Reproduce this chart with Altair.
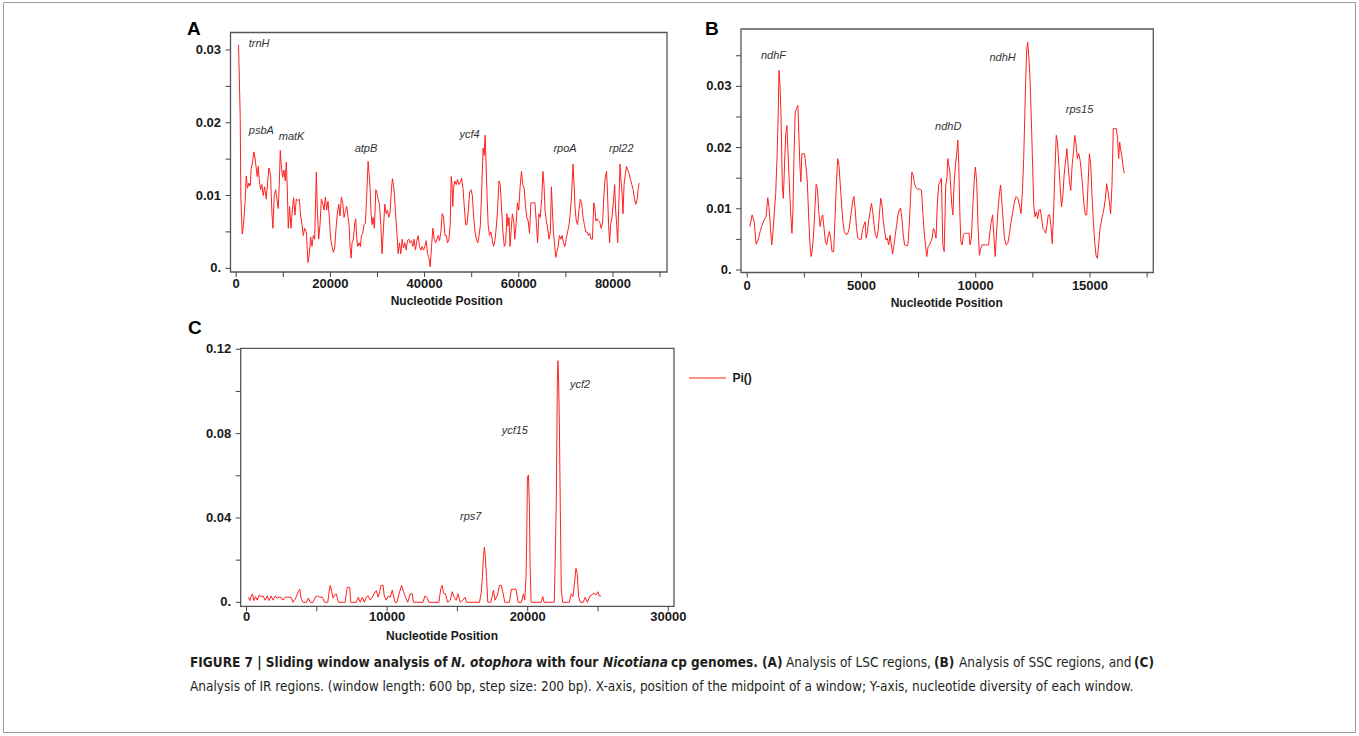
import altair as alt
import pandas as pd

W, H = 1359, 736
RED = "#ff2020"
AX_FONT = "Liberation Sans"
CAP_FONT = "DejaVu Sans Condensed"

# ---------------- data: panel A (LSC) ----------------
A_pos = [500, 850, 990, 1280, 1560, 1910, 2130, 2410, 2690, 2980, 3190, 3470, 3760, 3970, 4250, 4470, 4680, 4890,
         5180, 5460, 5740, 6030, 6380, 6660, 6950, 7300, 7590, 7800, 8080, 8370, 8650, 8930, 9150, 9360, 9570, 9860,
         10140, 10420, 10640, 10850, 11060, 11340, 11630, 11910, 12190, 12480, 12760, 13120, 13400, 13690, 13970,
         14250, 14530, 14890, 15240, 15530, 15810, 16090, 16380, 16660, 17020, 17230, 17510, 17800, 18080, 18360,
         18650, 18930, 19210, 19500, 19780, 20060, 20350, 20630, 20920, 21200, 21480, 21770, 22050, 22330, 22620,
         22900, 23180, 23470, 23750, 23960, 24180, 24390, 24600, 24890, 25170, 25380, 25600, 25810, 26090, 26380,
         26590, 26870, 27150, 27440, 27720, 28010, 28220, 28430, 28640, 28860, 29070, 29350, 29640, 29850, 30130,
         30420, 30700, 30980, 31270, 31550, 31840, 32120, 32400, 32690, 32970, 33180, 33390, 33610, 33890, 34170,
         34390, 34670, 34950, 35240, 35520, 35800, 36090, 36370, 36650, 36940, 37220, 37510, 37790, 38070, 38360,
         38640, 38920, 39210, 39490, 39780, 40060, 40340, 40630, 40910, 41190, 41480, 41760, 42050, 42330, 42610,
         42900, 43180, 43470, 43750, 44030, 44320, 44600, 44880, 45170, 45450, 45650, 45800, 46000, 46140, 46430,
         46720, 47000, 47290, 47570, 47860, 48150, 48430, 48720, 49000, 49290, 49570, 49860, 50140, 50430, 50710,
         51000, 51290, 51570, 51860, 52140, 52430, 52640, 52860, 53070, 53290, 53500, 53780, 54070, 54360, 54640,
         54930, 55210, 55500, 55790, 56070, 56360, 56640, 56930, 57220, 57500, 57710, 57930, 58140, 58360, 58640,
         58930, 59140, 59430, 59710, 60000, 60280, 60570, 60860, 61140, 61430, 61710, 62000, 62280, 62570, 62860,
         63140, 63430, 63710, 64000, 64280, 64570, 64860, 65140, 65360, 65570, 65860, 66140, 66430, 66710, 66930,
         67140, 67360, 67640, 67860, 68070, 68360, 68640, 68930, 69210, 69500, 69790, 70070, 70360, 70640, 70930,
         71210, 71500, 71710, 71930, 72210, 72500, 72790, 73070, 73360, 73640, 73930, 74210, 74500, 74790, 75070,
         75360, 75640, 75930, 76140, 76360, 76640, 76930, 77210, 77500, 77790, 78070, 78360, 78640, 78860, 79070,
         79290, 79500, 79790, 80070, 80360, 80570, 80790, 81000, 81210, 81500, 81710, 81930, 82140, 82360, 82640,
         82860, 83140, 83430, 83710, 84000, 84290, 84570, 84860, 85140, 85360, 85570]
A_pi = [0.0307, 0.0209, 0.0098, 0.0047, 0.0060, 0.0093, 0.0127, 0.0110, 0.0117, 0.0113, 0.0137, 0.0145, 0.0160,
        0.0153, 0.0138, 0.0126, 0.0140, 0.0122, 0.0108, 0.0115, 0.0100, 0.0112, 0.0095, 0.0117, 0.0138, 0.0128,
        0.0075, 0.0055, 0.0100, 0.0108, 0.0095, 0.0082, 0.0115, 0.0162, 0.0142, 0.0125, 0.0135, 0.0120, 0.0146,
        0.0110, 0.0055, 0.0085, 0.0055, 0.0080, 0.0097, 0.0073, 0.0095, 0.0093, 0.0095, 0.0072, 0.0060, 0.0045,
        0.0055, 0.0050, 0.0008, 0.0020, 0.0043, 0.0030, 0.0045, 0.0040, 0.0132, 0.0080, 0.0040, 0.0060, 0.0095,
        0.0090, 0.0080, 0.0098, 0.0080, 0.0092, 0.0070, 0.0040, 0.0030, 0.0022, 0.0028, 0.0055, 0.0075, 0.0088,
        0.0072, 0.0098, 0.0090, 0.0070, 0.0078, 0.0085, 0.0070, 0.0060, 0.0030, 0.0014, 0.0035, 0.0040, 0.0062,
        0.0068, 0.0040, 0.0030, 0.0035, 0.0030, 0.0045, 0.0048, 0.0060, 0.0062, 0.0100, 0.0147, 0.0130, 0.0110,
        0.0075, 0.0060, 0.0070, 0.0055, 0.0108, 0.0105, 0.0095, 0.0088, 0.0060, 0.0020, 0.0055, 0.0088, 0.0075,
        0.0080, 0.0070, 0.0078, 0.0110, 0.0123, 0.0115, 0.0100, 0.0070, 0.0045, 0.0020, 0.0035, 0.0020, 0.0040,
        0.0028, 0.0035, 0.0025, 0.0038, 0.0040, 0.0035, 0.0038, 0.0030, 0.0040, 0.0025, 0.0038, 0.0045, 0.0030,
        0.0025, 0.0030, 0.0025, 0.0030, 0.0038, 0.0020, 0.0015, 0.0002, 0.0030, 0.0055, 0.0040, 0.0035, 0.0040,
        0.0045, 0.0038, 0.0050, 0.0075, 0.0070, 0.0045, 0.0045, 0.0035, 0.0040, 0.0060, 0.0126, 0.0118, 0.0085,
        0.0110, 0.0120, 0.0115, 0.0122, 0.0115, 0.0118, 0.0124, 0.0110, 0.0085, 0.0060, 0.0060, 0.0080, 0.0105,
        0.0108, 0.0100, 0.0070, 0.0050, 0.0040, 0.0035, 0.0045, 0.0060, 0.0110, 0.0165, 0.0155, 0.0183, 0.0140,
        0.0095, 0.0060, 0.0045, 0.0050, 0.0040, 0.0030, 0.0038, 0.0055, 0.0080, 0.0120, 0.0115, 0.0080, 0.0050,
        0.0030, 0.0035, 0.0075, 0.0058, 0.0070, 0.0030, 0.0050, 0.0075, 0.0065, 0.0040, 0.0060, 0.0090, 0.0080,
        0.0112, 0.0133, 0.0115, 0.0110, 0.0085, 0.0070, 0.0065, 0.0048, 0.0090, 0.0090, 0.0090, 0.0090, 0.0065,
        0.0035, 0.0075, 0.0070, 0.0095, 0.0133, 0.0115, 0.0080, 0.0065, 0.0055, 0.0040, 0.0050, 0.0112, 0.0080,
        0.0050, 0.0030, 0.0015, 0.0022, 0.0030, 0.0045, 0.0040, 0.0045, 0.0035, 0.0030, 0.0040, 0.0050, 0.0058,
        0.0075, 0.0100, 0.0143, 0.0120, 0.0085, 0.0065, 0.0060, 0.0080, 0.0095, 0.0090, 0.0070, 0.0060, 0.0050,
        0.0050, 0.0045, 0.0048, 0.0040, 0.0040, 0.0090, 0.0085, 0.0065, 0.0068, 0.0065, 0.0063, 0.0055, 0.0062,
        0.0100, 0.0125, 0.0133, 0.0100, 0.0060, 0.0035, 0.0060, 0.0070, 0.0090, 0.0115, 0.0080, 0.0060, 0.0035,
        0.0080, 0.0143, 0.0120, 0.0105, 0.0075, 0.0115, 0.0130, 0.0140, 0.0135, 0.0130, 0.0122, 0.0115, 0.0108,
        0.0095, 0.0088, 0.0095, 0.0110, 0.0117]

# ---------------- data: panel B (SSC) ----------------
B_pos = [116, 218, 305, 392, 479, 566, 653, 740, 827, 899, 957, 1015, 1073, 1131, 1189, 1247, 1305, 1349, 1392,
         1436, 1479, 1537, 1581, 1624, 1682, 1740, 1784, 1842, 1900, 1958, 2001, 2045, 2103, 2161, 2219, 2262, 2306,
         2349, 2393, 2451, 2509, 2567, 2625, 2682, 2740, 2798, 2856, 2914, 2972, 3016, 3074, 3132, 3190, 3248, 3306,
         3364, 3422, 3480, 3538, 3596, 3654, 3712, 3785, 3843, 3901, 3959, 4017, 4075, 4133, 4191, 4249, 4321, 4394,
         4466, 4539, 4611, 4669, 4727, 4785, 4843, 4916, 4988, 5046, 5104, 5162, 5205, 5263, 5321, 5379, 5437, 5495,
         5553, 5611, 5669, 5727, 5785, 5843, 5901, 5959, 6017, 6075, 6133, 6191, 6249, 6307, 6365, 6423, 6481, 6539,
         6597, 6655, 6713, 6771, 6829, 6887, 6960, 7032, 7090, 7148, 7206, 7264, 7322, 7395, 7467, 7554, 7627, 7685,
         7743, 7801, 7859, 7917, 7975, 8033, 8091, 8149, 8207, 8265, 8323, 8381, 8439, 8500, 8560, 8620, 8690, 8740,
         8780, 8825, 8870, 8910, 8955, 9000, 9060, 9115, 9175, 9220, 9260, 9305, 9350, 9405, 9465, 9550, 9640, 9710,
         9750, 9810, 9870, 9930, 9985, 10045, 10100, 10160, 10220, 10275, 10360, 10465, 10565, 10625, 10680, 10740,
         10800, 10855, 10915, 10970, 11030, 11090, 11145, 11205, 11260, 11335, 11405, 11480, 11550, 11625, 11695,
         11770, 11840, 11915, 11985, 12045, 12100, 12145, 12190, 12235, 12275, 12320, 12365, 12405, 12450, 12495,
         12540, 12595, 12655, 12710, 12770, 12830, 12885, 12945, 13000, 13060, 13120, 13175, 13235, 13290, 13350,
         13410, 13465, 13525, 13580, 13640, 13700, 13755, 13815, 13870, 13930, 13990, 14045, 14105, 14160, 14220,
         14280, 14335, 14395, 14450, 14510, 14570, 14625, 14685, 14740, 14800, 14860, 14915, 14975, 15035, 15090,
         15150, 15205, 15265, 15325, 15380, 15440, 15500, 15555, 15615, 15675, 15730, 15790, 15850, 15905, 15965,
         16020, 16080, 16150, 16210, 16255, 16300, 16340, 16385, 16445, 16500]
B_pi = [0.0071, 0.0090, 0.0079, 0.0042, 0.0049, 0.0063, 0.0073, 0.0082, 0.0087, 0.0118, 0.0102, 0.0071, 0.0041,
        0.0063, 0.0095, 0.0125, 0.0182, 0.0242, 0.0326, 0.0302, 0.0253, 0.0139, 0.0117, 0.0160, 0.0220, 0.0236,
        0.0193, 0.0144, 0.0095, 0.0060, 0.0095, 0.0182, 0.0258, 0.0264, 0.0269, 0.0220, 0.0171, 0.0144, 0.0190,
        0.0190, 0.0190, 0.0171, 0.0149, 0.0095, 0.0046, 0.0022, 0.0035, 0.0063, 0.0106, 0.0140, 0.0133, 0.0095,
        0.0071, 0.0084, 0.0090, 0.0068, 0.0046, 0.0041, 0.0054, 0.0063, 0.0052, 0.0030, 0.0030, 0.0084, 0.0139,
        0.0182, 0.0171, 0.0139, 0.0106, 0.0079, 0.0063, 0.0058, 0.0059, 0.0068, 0.0090, 0.0111, 0.0120, 0.0098,
        0.0068, 0.0052, 0.0050, 0.0050, 0.0065, 0.0073, 0.0079, 0.0052, 0.0063, 0.0082, 0.0095, 0.0109, 0.0095,
        0.0073, 0.0057, 0.0052, 0.0063, 0.0090, 0.0117, 0.0106, 0.0079, 0.0063, 0.0049, 0.0052, 0.0041, 0.0057,
        0.0041, 0.0026, 0.0041, 0.0057, 0.0073, 0.0090, 0.0098, 0.0101, 0.0084, 0.0057, 0.0041, 0.0040, 0.0040,
        0.0073, 0.0117, 0.0160, 0.0155, 0.0141, 0.0134, 0.0132, 0.0132, 0.0130, 0.0095, 0.0063, 0.0041, 0.0022,
        0.0038, 0.0041, 0.0046, 0.0052, 0.0068, 0.0063, 0.0052, 0.0111, 0.0139, 0.0144, 0.0150, 0.0041, 0.0030,
        0.0139, 0.0149, 0.0182, 0.0171, 0.0160, 0.0133, 0.0106, 0.0090, 0.0144, 0.0171, 0.0193, 0.0212, 0.0171,
        0.0095, 0.0046, 0.0041, 0.0058, 0.0060, 0.0060, 0.0060, 0.0041, 0.0052, 0.0101, 0.0144, 0.0168, 0.0144,
        0.0073, 0.0024, 0.0035, 0.0041, 0.0041, 0.0041, 0.0041, 0.0063, 0.0079, 0.0090, 0.0052, 0.0022, 0.0063,
        0.0095, 0.0122, 0.0139, 0.0111, 0.0079, 0.0052, 0.0041, 0.0043, 0.0060, 0.0079, 0.0095, 0.0111, 0.0120,
        0.0117, 0.0106, 0.0092, 0.0128, 0.0182, 0.0247, 0.0313, 0.0361, 0.0372, 0.0351, 0.0323, 0.0280, 0.0226,
        0.0166, 0.0106, 0.0087, 0.0095, 0.0084, 0.0098, 0.0099, 0.0084, 0.0068, 0.0065, 0.0060, 0.0073, 0.0090,
        0.0090, 0.0073, 0.0043, 0.0095, 0.0160, 0.0220, 0.0209, 0.0171, 0.0133, 0.0103, 0.0122, 0.0155, 0.0177,
        0.0198, 0.0171, 0.0144, 0.0130, 0.0171, 0.0193, 0.0220, 0.0204, 0.0182, 0.0190, 0.0179, 0.0160, 0.0133,
        0.0106, 0.0090, 0.0090, 0.0139, 0.0190, 0.0171, 0.0122, 0.0079, 0.0046, 0.0024, 0.0019, 0.0041, 0.0068,
        0.0079, 0.0090, 0.0101, 0.0117, 0.0141, 0.0128, 0.0111, 0.0092, 0.0139, 0.0231, 0.0231, 0.0231, 0.0215,
        0.0182, 0.0209, 0.0198, 0.0188, 0.0171, 0.0158]

# ---------------- data: panel C (IR) ----------------
C_pos = [120, 240, 330, 430, 520, 640, 760, 900, 1040, 1180, 1330, 1470, 1610, 1750, 1890, 2040, 2180, 2320, 2460,
         2600, 2750, 2890, 3030, 3170, 3310, 3500, 3690, 3790, 3880, 4020, 4260, 4400, 4540, 4730, 4920, 5060, 5200,
         5400, 5540, 5780, 5890, 5960, 6060, 6150, 6270, 6390, 6530, 7010, 7100, 7170, 7340, 7410, 7810, 7950, 8090,
         8240, 8380, 8520, 8660, 8810, 8950, 9090, 9230, 9370, 9470, 9560, 9710, 9800, 9940, 10080, 10230, 10370,
         10460, 10560, 10700, 10890, 11030, 11170, 11310, 11460, 11650, 11790, 11880, 12550, 12690, 12830, 12970,
         13680, 13820, 13920, 14010, 14150, 14300, 14490, 14630, 14770, 14910, 15050, 15200, 15390, 15530, 15670,
         16570, 16690, 16780, 16850, 16920, 16990, 17070, 17160, 17370, 17470, 17560, 17680, 17850, 17990, 18130,
         18230, 18370, 18700, 18840, 19170, 19320, 19550, 19690, 19790, 19880, 19930, 19980, 20050, 20120, 20170,
         20240, 20950, 21070, 21160, 21890, 21970, 22040, 22110, 22150, 22200, 22250, 22320, 22390, 22490, 22960,
         23100, 23220, 23330, 23430, 23520, 23620, 23740, 23950, 24090, 24240, 24430, 24570, 24710, 24850, 24990,
         25090, 25210]
C_pi = [0.0024, 0.0008, 0.0030, 0.0040, 0.0008, 0.0027, 0.0010, 0.0035, 0.0027, 0.0030, 0.0010, 0.0030, 0.0008,
        0.0030, 0.0010, 0.0030, 0.0020, 0.0024, 0.0024, 0.0010, 0.0024, 0.0024, 0.0024, 0.0024, 0.0000, 0.0020,
        0.0050, 0.0062, 0.0020, 0.0000, 0.0000, 0.0020, 0.0000, 0.0000, 0.0027, 0.0030, 0.0024, 0.0024, 0.0000,
        0.0000, 0.0058, 0.0080, 0.0050, 0.0020, 0.0035, 0.0040, 0.0000, 0.0000, 0.0043, 0.0071, 0.0071, 0.0000,
        0.0000, 0.0024, 0.0000, 0.0024, 0.0000, 0.0024, 0.0030, 0.0010, 0.0024, 0.0043, 0.0055, 0.0024, 0.0050,
        0.0080, 0.0080, 0.0030, 0.0010, 0.0030, 0.0024, 0.0058, 0.0030, 0.0000, 0.0000, 0.0050, 0.0080, 0.0050,
        0.0024, 0.0000, 0.0040, 0.0040, 0.0000, 0.0000, 0.0030, 0.0024, 0.0000, 0.0000, 0.0066, 0.0080, 0.0043,
        0.0040, 0.0000, 0.0010, 0.0050, 0.0024, 0.0010, 0.0040, 0.0000, 0.0010, 0.0024, 0.0000, 0.0000, 0.0043,
        0.0122, 0.0217, 0.0261, 0.0209, 0.0122, 0.0000, 0.0000, 0.0027, 0.0058, 0.0010, 0.0035, 0.0080, 0.0080,
        0.0050, 0.0000, 0.0000, 0.0062, 0.0062, 0.0000, 0.0000, 0.0040, 0.0010, 0.0122, 0.0296, 0.0593, 0.0604,
        0.0454, 0.0169, 0.0000, 0.0000, 0.0027, 0.0000, 0.0000, 0.0248, 0.0509, 0.1055, 0.1146, 0.1047, 0.0857,
        0.0438, 0.0058, 0.0000, 0.0000, 0.0040, 0.0027, 0.0090, 0.0161, 0.0138, 0.0027, 0.0000, 0.0000, 0.0024,
        0.0000, 0.0030, 0.0035, 0.0043, 0.0035, 0.0050, 0.0030, 0.0030]

# ---------------- gene annotations ----------------
A_genes = ["trnH", "psbA", "matK", "atpB", "ycf4", "rpoA", "rpl22"]
A_gene_pos = [2670, 2670, 9030, 25150, 47420, 67360, 79170]
A_gene_val = [0.0308, 0.0188, 0.0180, 0.0164, 0.0183, 0.0164, 0.0164]
B_genes = ["ndhF", "ndhD", "ndhH", "rps15"]
B_gene_pos = [600, 8220, 10600, 13940]
B_gene_val = [0.0350, 0.0234, 0.0347, 0.0261]
C_genes = ["rps7", "ycf15", "ycf2"]
C_gene_pos = [15190, 18150, 23010]
C_gene_val = [0.0406, 0.0814, 0.1031]

# ---------------- ticks ----------------
A_xticks = [0, 10000, 20000, 30000, 40000, 50000, 60000, 70000, 80000, 90000]
A_xlabels = [0, 20000, 40000, 60000, 80000]
A_yticks = [0, 0.005, 0.01, 0.015, 0.02, 0.025, 0.03]
A_ylabels = [0, 0.01, 0.02, 0.03]
B_xticks = [0, 2500, 5000, 7500, 10000, 12500, 15000, 17500]
B_xlabels = [0, 5000, 10000, 15000]
B_yticks = [0, 0.005, 0.01, 0.015, 0.02, 0.025, 0.03, 0.035]
B_ylabels = [0, 0.01, 0.02, 0.03]
C_xticks = [0, 5000, 10000, 15000, 20000, 25000, 30000]
C_xlabels = [0, 10000, 20000, 30000]
C_yticks = [0, 0.02, 0.04, 0.06, 0.08, 0.1, 0.12]
C_ylabels = [0, 0.04, 0.08, 0.12]

SERIES = "Pi()"
TICK_COLOR = "#444"
LABEL_COLOR = "#1a1a1a"


def ylab(v):
    return "0." if v == 0 else f"{v:.2f}"


def panel(pos, pi, genes, gpos, gval, frame, xdom, ydom, xticks, xlabels, yticks, ylabels,
          xlab_y, title_x, title_y, legend=False):
    left, right, top, bottom = frame
    xs = alt.Scale(domain=xdom, range=[left, right], nice=False, zero=False)
    ys = alt.Scale(domain=ydom, range=[bottom, top], nice=False, zero=False)

    df = pd.DataFrame({"pos": pos, "pi": pi, "series": SERIES})
    enc = dict(x=alt.X("pos:Q", scale=xs, axis=None), y=alt.Y("pi:Q", scale=ys, axis=None))
    if legend:
        enc["color"] = alt.Color(
            "series:N",
            scale=alt.Scale(domain=[SERIES], range=[RED]),
            legend=alt.Legend(orient="none", legendX=688.5, legendY=359, title=None,
                              symbolType="stroke", symbolSize=1369, symbolStrokeWidth=1,
                              labelFont=AX_FONT, labelFontWeight="bold", labelFontSize=12,
                              labelColor=LABEL_COLOR, labelOffset=6, padding=0))
        line = alt.Chart(df).mark_line(strokeWidth=1).encode(**enc)
    else:
        line = alt.Chart(df).mark_line(color=RED, strokeWidth=1).encode(**enc)

    gdf = pd.DataFrame({"gene": genes, "pos": gpos, "val": gval})
    text = alt.Chart(gdf).mark_text(align="left", baseline="middle", font=AX_FONT, fontSize=11,
                                    fontStyle="italic", color="#333").encode(
        x=alt.X("pos:Q", scale=xs, axis=None),
        y=alt.Y("val:Q", scale=ys, axis=None),
        text="gene:N")

    # x axis: ticks + labels through the panel's x scale
    xt = alt.Chart(pd.DataFrame({"v": xticks})).mark_rule(color=TICK_COLOR, strokeWidth=1).encode(
        x=alt.X("v:Q", scale=xs, axis=None), y=alt.value(bottom), y2=alt.value(bottom + 5))
    xl = alt.Chart(pd.DataFrame({"v": xlabels, "lab": [str(v) for v in xlabels]})).mark_text(
        align="center", baseline="middle", font=AX_FONT, fontSize=13, fontWeight="bold",
        color=LABEL_COLOR).encode(
        x=alt.X("v:Q", scale=xs, axis=None), y=alt.value(xlab_y), text="lab:N")
    # y axis: ticks + labels through the panel's y scale
    yt = alt.Chart(pd.DataFrame({"v": yticks})).mark_rule(color=TICK_COLOR, strokeWidth=1).encode(
        y=alt.Y("v:Q", scale=ys, axis=None), x=alt.value(left - 5), x2=alt.value(left))
    yl = alt.Chart(pd.DataFrame({"v": ylabels, "lab": [ylab(v) for v in ylabels]})).mark_text(
        align="right", baseline="middle", font=AX_FONT, fontSize=13, fontWeight="bold",
        color=LABEL_COLOR).encode(
        y=alt.Y("v:Q", scale=ys, axis=None), x=alt.value(left - 9.5), text="lab:N")
    title = alt.Chart(pd.DataFrame({"t": ["Nucleotide Position"]})).mark_text(
        align="center", baseline="middle", font=AX_FONT, fontSize=12, fontWeight="bold",
        color=LABEL_COLOR).encode(x=alt.value(title_x), y=alt.value(title_y), text="t:N")

    frame_rect = alt.Chart(pd.DataFrame({"k": [0]})).mark_rect(
        filled=False, stroke="#555", strokeWidth=1.3).encode(
        x=alt.value(left), x2=alt.value(right), y=alt.value(top), y2=alt.value(bottom))
    return alt.layer(frame_rect, line, text, xt, xl, yt, yl, title)


pA = panel(A_pos, A_pi, A_genes, A_gene_pos, A_gene_val, (230.5, 667, 32.5, 272),
           [-1209, 91474], [-0.00051, 0.0324], A_xticks, A_xlabels, A_yticks, A_ylabels,
           284, 446.7, 300.5)
pB = panel(B_pos, B_pi, B_genes, B_gene_pos, B_gene_val, (741, 1153.3, 29, 272.5),
           [-271, 17772], [-0.00041, 0.03937], B_xticks, B_xlabels, B_yticks, B_ylabels,
           286, 946.7, 303)
pC = panel(C_pos, C_pi, C_genes, C_gene_pos, C_gene_val, (240.7, 674, 348.3, 606.3),
           [-413, 30405], [-0.0019, 0.12047], C_xticks, C_xlabels, C_yticks, C_ylabels,
           617, 442, 636, legend=True)


def txt(text, x, y, size, weight="normal", style="normal", font=AX_FONT, color="#000"):
    return alt.Chart(pd.DataFrame({"t": [text]})).mark_text(
        align="left", baseline="alphabetic", font=font, fontSize=size, fontWeight=weight,
        fontStyle=style, color=color).encode(x=alt.value(x), y=alt.value(y), text="t:N")


letters = [txt("A", 187, 35, 19, "bold"), txt("B", 705, 35, 19, "bold"), txt("C", 188, 334, 19, "bold")]

CAP1_Y, CAP2_Y = 667, 691
CAP_SIZE = 13.5
cap1 = [("FIGURE 7 | Sliding window analysis of", "bold", "normal", 190),
        ("N. otophora", "bold", "italic", 451),
        ("with four", "bold", "normal", 536),
        ("Nicotiana", "bold", "italic", 603),
        ("cp genomes. (A)", "bold", "normal", 671),
        ("Analysis of LSC regions,", "normal", "normal", 786),
        ("(B)", "bold", "normal", 934),
        ("Analysis of SSC regions, and", "normal", "normal", 959),
        ("(C)", "bold", "normal", 1134)]
cap2 = ("Analysis of IR regions. (window length: 600 bp, step size: 200 bp). X-axis, position of the "
        "midpoint of a window; Y-axis, nucleotide diversity of each window.")
captions = [txt(t, x, CAP1_Y, CAP_SIZE, w, s, CAP_FONT, "#231f20") for (t, w, s, x) in cap1]
captions.append(txt(cap2, 190, CAP2_Y, CAP_SIZE, "normal", "normal", CAP_FONT, "#231f20"))

border = alt.Chart(pd.DataFrame({"k": [0]})).mark_rect(
    filled=False, stroke="#9a9a9a", strokeWidth=1).encode(
    x=alt.value(3.5), x2=alt.value(1355.5), y=alt.value(2.5), y2=alt.value(732.5))

chart = alt.layer(border, pA, pB, pC, *letters, *captions).resolve_scale(
    x="independent", y="independent", color="independent"
).properties(
    width=W, height=H, padding=0, autosize=alt.AutoSizeParams(type="none"), background="white"
).configure_view(strokeWidth=0)

chart.save("out.html", embed_options={"renderer": "svg", "actions": False})
